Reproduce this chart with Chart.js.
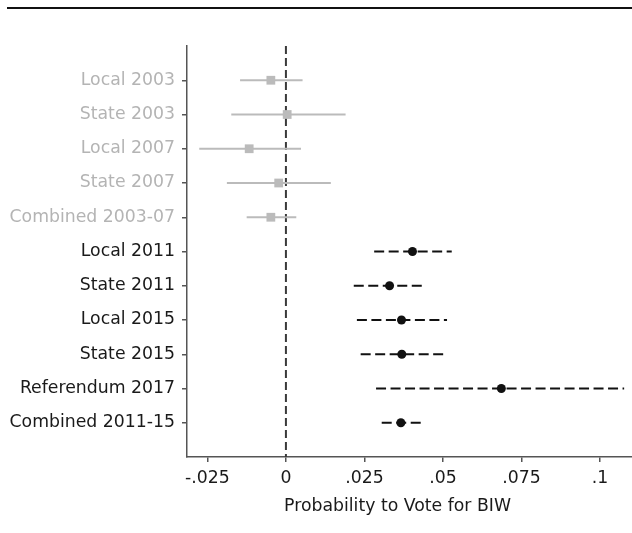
<!DOCTYPE html>
<html>
<head>
<meta charset="utf-8">
<script src="https://cdn.jsdelivr.net/npm/chart.js@4.4.1/dist/chart.umd.min.js"></script>
<style>
  html, body { margin: 0; padding: 0; background: #ffffff; }
  #wrap { width: 632px; height: 533px; position: relative; }
</style>
</head>
<body>
<div id="wrap"><canvas id="coefplot"></canvas></div>
<script>
// Election rows, top to bottom
const categories = [
  "Local 2003", "State 2003", "Local 2007", "State 2007", "Combined 2003-07",
  "Local 2011", "State 2011", "Local 2015", "State 2015", "Referendum 2017", "Combined 2011-15"
];
// Point estimates and 95% confidence bounds
const estimates = [-0.0048, 0.0004, -0.0117, -0.0023, -0.0048, 0.0403, 0.0330, 0.0368, 0.0369, 0.0686, 0.0366];
const lowerCI   = [-0.0146, -0.0174, -0.0276, -0.0188, -0.0125, 0.0281, 0.0216, 0.0226, 0.0238, 0.0287, 0.0305];
const upperCI   = [0.0053, 0.0190, 0.0048, 0.0143, 0.0033, 0.0528, 0.0440, 0.0513, 0.0509, 0.1077, 0.0434];
// Period of each row: earlier elections shown in grey
const period    = ["early", "early", "early", "early", "early", "late", "late", "late", "late", "late", "late"];
// X-axis tick values and their labels
const xTickValues = [-0.025, 0, 0.025, 0.05, 0.075, 0.1];
const xTickLabels = ["-.025", "0", ".025", ".05", ".075", ".1"];
const xAxisTitle = "Probability to Vote for BIW";

const GREY = "#bbbbbb";
const BLACK = "#111111";
const FONT = "'DejaVu Sans', Verdana, sans-serif";
const FONT_SIZE = 17.3;

const datasets = [];

// Confidence interval segments, one per row
categories.forEach((name, i) => {
  const early = period[i] === "early";
  datasets.push({
    type: "line",
    data: [{ x: lowerCI[i], y: i + 1 }, { x: upperCI[i], y: i + 1 }],
    borderColor: early ? GREY : BLACK,
    borderWidth: 1.8,
    borderDash: early ? [] : [10, 4.5],
    pointRadius: 0,
    fill: false,
    order: 2
  });
});

// Point estimates
const earlyPts = [], latePts = [];
categories.forEach((name, i) => {
  (period[i] === "early" ? earlyPts : latePts).push({ x: estimates[i], y: i + 1 });
});
datasets.push({
  type: "scatter",
  data: earlyPts,
  pointStyle: "rect",
  pointRadius: 6.2,
  backgroundColor: GREY,
  borderColor: GREY,
  borderWidth: 0,
  order: 1
});
datasets.push({
  type: "scatter",
  data: latePts,
  pointStyle: "circle",
  pointRadius: 4.5,
  backgroundColor: BLACK,
  borderColor: BLACK,
  borderWidth: 0,
  order: 1
});

// Reference line at zero, the rule across the top and the x-axis title
const decorations = {
  id: "decorations",
  beforeDatasetsDraw(chart) {
    const { ctx, chartArea, scales } = chart;
    const x0 = scales.x.getPixelForValue(0);
    ctx.save();
    ctx.strokeStyle = "#3a3a3a";
    ctx.lineWidth = 2;
    ctx.setLineDash([8, 4]);
    ctx.beginPath();
    ctx.moveTo(x0, chartArea.top);
    ctx.lineTo(x0, chartArea.bottom);
    ctx.stroke();
    ctx.restore();
  },
  afterDraw(chart) {
    const { ctx, chartArea } = chart;
    ctx.save();
    ctx.strokeStyle = "#111111";
    ctx.lineWidth = 2;
    ctx.beginPath();
    ctx.moveTo(7, 8);
    ctx.lineTo(chart.width, 8);
    ctx.stroke();
    // axis title, centred under the visible tick range
    ctx.fillStyle = "#1a1a1a";
    ctx.font = FONT_SIZE + "px " + FONT;
    ctx.textAlign = "center";
    ctx.textBaseline = "middle";
    ctx.fillText(xAxisTitle, (chartArea.left + chartArea.right) / 2 - 12, chartArea.bottom + 50);
    ctx.restore();
  }
};

new Chart(document.getElementById("coefplot"), {
  type: "scatter",
  data: { datasets },
  options: {
    responsive: true,
    maintainAspectRatio: false,
    animation: false,
    layout: { autoPadding: false, padding: { top: 46, right: 0, bottom: 0, left: 0 } },
    plugins: {
      legend: { display: false },
      tooltip: { enabled: false },
      title: { display: false }
    },
    scales: {
      x: {
        type: "linear",
        min: -0.0315,
        max: 0.1102,
        afterBuildTicks(scale) { scale.ticks = xTickValues.map(v => ({ value: v })); },
        afterFit(scale) { scale.height = 76; scale.paddingLeft = 0; scale.paddingRight = 0; },
        ticks: {
          color: "#1a1a1a",
          font: { family: FONT, size: FONT_SIZE },
          padding: 6,
          maxRotation: 0,
          autoSkip: false,
          callback(value) {
            const k = xTickValues.findIndex(v => Math.abs(v - value) < 1e-9);
            return k >= 0 ? xTickLabels[k] : "";
          }
        },
        grid: { drawOnChartArea: false, drawTicks: true, tickLength: 5, color: "#555555", lineWidth: 1.5 },
        border: { display: true, color: "#555555", width: 1.5 }
      },
      y: {
        type: "linear",
        reverse: true,
        min: 0,
        max: categories.length + 1,
        afterBuildTicks(scale) { scale.ticks = categories.map((c, i) => ({ value: i + 1 })); },
        afterFit(scale) { scale.width = 187; scale.paddingTop = 0; scale.paddingBottom = 0; },
        ticks: {
          autoSkip: false,
          padding: 7,
          font: { family: FONT, size: FONT_SIZE },
          color(ctx) {
            const i = Math.round(ctx.tick.value) - 1;
            return period[i] === "early" ? "#b4b4b4" : "#1a1a1a";
          },
          callback(value) { return categories[Math.round(value) - 1] || ""; }
        },
        grid: { drawOnChartArea: false, drawTicks: true, tickLength: 5, color: "#555555", lineWidth: 1.5 },
        border: { display: true, color: "#555555", width: 1.5 }
      }
    }
  },
  plugins: [decorations]
});
</script>
</body>
</html>
